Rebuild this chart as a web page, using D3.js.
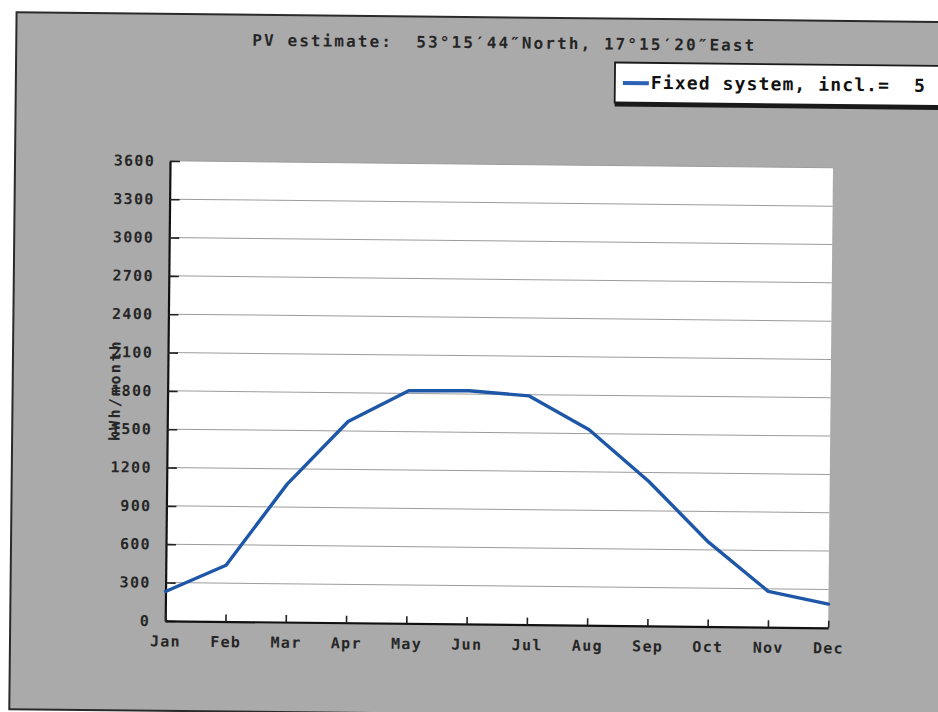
<!DOCTYPE html>
<html><head><meta charset="utf-8">
<script src="https://cdn.jsdelivr.net/npm/d3@7"></script>
<style>body{margin:0;background:#fff;overflow:hidden}</style>
</head><body>
<script>
// ---- data ----
const months = ["Jan","Feb","Mar","Apr","May","Jun","Jul","Aug","Sep","Oct","Nov","Dec"];
const production = [230, 440, 1080, 1575, 1820, 1825, 1790, 1530, 1130, 660, 280, 185];
const yTickValues = [0,300,600,900,1200,1500,1800,2100,2400,2700,3000,3300,3600];
const titleText = "PV estimate:  53°15′44″North, 17°15′20″East";
const legendLabel = "Fixed system, incl.=  5";
const yAxisTitle = "kWh/month";

const W = 938, H = 712;
const FONT = "'DejaVu Sans Mono', 'Liberation Mono', monospace";
const svg = d3.select("body").append("svg").attr("width", W).attr("height", H)
  .style("display","block");
svg.append("rect").attr("width", W).attr("height", H).attr("fill", "#fff");

// scanned page is slightly rotated
const g = svg.append("g").attr("transform", "rotate(0.6,469,356)");

// grey panel
g.append("rect").attr("x", 13).attr("y", 17).attr("width", 960).attr("height", 697)
  .attr("fill", "#aaaaaa").attr("stroke", "#2a2a2a").attr("stroke-width", 2);

// title
g.append("text").attr("x", 249).attr("y", 48)
  .attr("font-family", FONT).attr("font-size", 16).attr("font-weight", "bold").attr("fill", "#262626")
  .attr("textLength", 502).attr("lengthAdjust", "spacing")
  .style("white-space", "pre")
  .text(titleText);

// scales
const x = d3.scalePoint().domain(months).range([168, 831]);
const y = d3.scaleLinear().domain([0, 3600]).range([624, 164]);

// plot background
g.append("rect").attr("x", 168).attr("y", 164).attr("width", 831 - 168).attr("height", 624 - 164)
  .attr("fill", "#fff");

// gridlines
g.append("g").selectAll("line").data(yTickValues.filter(d => d > 0)).join("line")
  .attr("x1", 168).attr("x2", 831)
  .attr("y1", d => y(d)).attr("y2", d => y(d))
  .attr("stroke", "#9c9c9c").attr("stroke-width", 1);

// axes
const yAxis = d3.axisLeft(y).tickValues(yTickValues).tickFormat(d3.format("d"))
  .tickSizeInner(-10).tickSizeOuter(0).tickPadding(15);
const xAxis = d3.axisBottom(x).tickSizeInner(-7).tickSizeOuter(0).tickPadding(15);

const gy = g.append("g").attr("transform", "translate(168,0)").call(yAxis);
const gx = g.append("g").attr("transform", "translate(0,624)").call(xAxis);
[gy, gx].forEach(a => {
  a.select(".domain").attr("stroke", "#111").attr("stroke-width", 2.2);
  a.selectAll(".tick line").attr("stroke", "#222").attr("stroke-width", 1.6);
  a.selectAll(".tick text").attr("font-family", FONT).attr("font-size", 15)
    .attr("font-weight", "bold").attr("fill", "#262626").style("letter-spacing", "1.3px");
});

// y-axis title
g.append("text").attr("transform", "translate(116,395) rotate(-90)")
  .attr("text-anchor", "middle").attr("dominant-baseline", "middle")
  .attr("font-family", FONT).attr("font-size", 15).attr("font-weight", "bold").attr("fill", "#262626")
  .attr("textLength", 100).attr("lengthAdjust", "spacing")
  .text(yAxisTitle);

// data line
const line = d3.line().x((d, i) => x(months[i])).y(d => y(d));
g.append("path").datum(production).attr("d", line)
  .attr("fill", "none").attr("stroke", "#1f57a8").attr("stroke-width", 3.4)
  .attr("stroke-linejoin", "round").attr("stroke-linecap", "round");

// legend
const lg = g.append("g");
lg.append("rect").attr("x", 612).attr("y", 100).attr("width", 360).attr("height", 5).attr("fill", "#1a1a1a");
lg.append("rect").attr("x", 612).attr("y", 61).attr("width", 360).attr("height", 40)
  .attr("fill", "#fff").attr("stroke", "#1a1a1a").attr("stroke-width", 1.8);
lg.append("line").attr("x1", 620).attr("x2", 646).attr("y1", 81.5).attr("y2", 81.5)
  .attr("stroke", "#2a62b4").attr("stroke-width", 4);
lg.append("text").attr("x", 648).attr("y", 87)
  .attr("font-family", FONT).attr("font-size", 18).attr("font-weight", "bold").attr("fill", "#111")
  .attr("textLength", 274).attr("lengthAdjust", "spacing")
  .style("white-space", "pre")
  .text(legendLabel);
</script>
</body></html>
